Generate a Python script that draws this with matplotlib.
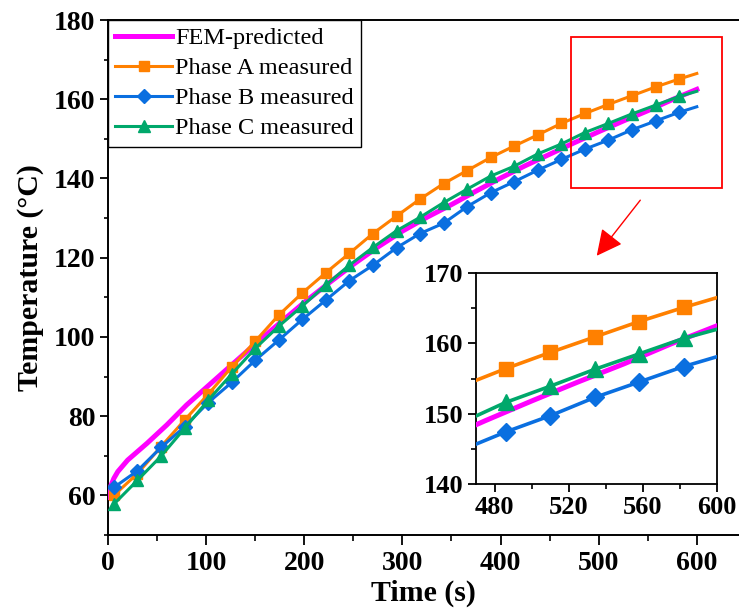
import matplotlib
matplotlib.use("Agg")
import matplotlib.pyplot as plt
import numpy as np
from matplotlib.patches import Rectangle, FancyArrowPatch
from matplotlib.ticker import MultipleLocator

plt.rcParams['font.family'] = ['Liberation Serif', 'DejaVu Serif']

# Measured series (time in s, temperature in °C)
t_meas = [6, 30, 54, 78, 102, 126, 150, 174, 198, 222, 246, 270, 294, 318, 342,
          366, 390, 414, 438, 462, 486, 510, 534, 558, 582, 600]
phase_a = [60.0, 65.5, 72.3, 79.0, 85.5, 92.4, 98.9, 105.5, 111.1, 116.2, 121.1,
           126.1, 130.5, 134.8, 138.7, 142.0, 145.3, 148.2, 151.0, 153.9, 156.4,
           158.7, 160.9, 163.1, 165.1, 166.5]
phase_b = [62.0, 66.2, 72.1, 77.3, 83.4, 88.5, 94.1, 99.2, 104.4, 109.3, 114.2,
           118.1, 122.5, 126.1, 128.7, 132.9, 136.4, 139.2, 142.1, 144.8, 147.4,
           149.7, 152.3, 154.5, 156.7, 158.1]
phase_c = [57.8, 63.8, 69.9, 76.9, 84.0, 90.6, 97.1, 102.7, 107.8, 113.1, 118.1,
           122.6, 126.8, 130.2, 133.9, 137.3, 140.6, 143.1, 146.2, 148.7, 151.6,
           153.9, 156.3, 158.5, 160.7, 162.0]

# FEM-predicted curve
t_fem = [0, 3, 6, 10, 20, 40, 60, 80, 100, 125, 150, 175, 200, 225, 250, 275, 300,
         325, 350, 375, 400, 425, 450, 475, 500, 525, 550, 575, 600]
fem = [59.5, 62.5, 64.3, 66.0, 68.9, 73.2, 77.8, 82.8, 87.2, 92.7, 98.2, 103.5,
       108.7, 113.6, 118.3, 122.7, 126.7, 130.2, 133.4, 136.8, 140.1, 143.2, 146.1,
       149.0, 151.8, 154.5, 157.1, 159.9, 162.5]

C_FEM = '#FF00FF'
C_A = '#FF8000'
C_B = '#0A6FE0'
C_C = '#00A86B'

mark_idx = list(range(len(t_meas) - 1))

fig = plt.figure(figsize=(7.39, 6.11), dpi=100)
ax = fig.add_axes([108/739, 76/611, 631/739, 515/611])

ax.plot(t_fem, fem, color=C_FEM, lw=3.6, label='FEM-predicted', zorder=3)
ax.plot(t_meas, phase_a, color=C_A, lw=2.2, marker='s', ms=7.5, markevery=mark_idx,
        label='Phase A measured', zorder=4)
ax.plot(t_meas, phase_b, color=C_B, lw=2.2, marker='D', ms=7, markevery=mark_idx,
        label='Phase B measured', zorder=4)
ax.plot(t_meas, phase_c, color=C_C, lw=2.2, marker='^', ms=8.5, markevery=mark_idx,
        label='Phase C measured', zorder=4)

ax.set_xlim(0, 643)
ax.set_ylim(50, 180)
ax.set_xticks([0, 100, 200, 300, 400, 500, 600])
ax.xaxis.set_minor_locator(MultipleLocator(50))
ax.set_yticks([60, 80, 100, 120, 140, 160, 180])
ax.yaxis.set_minor_locator(MultipleLocator(10))
ax.spines['right'].set_visible(False)
for s in ['left', 'bottom', 'top']:
    ax.spines[s].set_linewidth(1.4)
ax.tick_params(axis='x', which='major', direction='out', length=7.5, width=1.3,
               labelsize=20, top=False, pad=4)
ax.tick_params(axis='x', which='minor', direction='out', length=4.3, width=1.2, top=False)
ax.tick_params(axis='y', which='major', direction='out', length=6, width=1.3,
               labelsize=20, right=False, pad=3)
ax.tick_params(axis='y', which='minor', direction='out', length=3.2, width=1.2, right=False)
for lab in ax.get_xticklabels() + ax.get_yticklabels():
    lab.set_fontweight('bold')
ax.set_xlabel('Time (s)', fontsize=21.5, fontweight='bold', labelpad=3)
ax.set_ylabel('Temperature (°C)', fontsize=21.5, fontweight='bold', labelpad=7)

leg = ax.legend(loc='upper left', bbox_to_anchor=(0, 1), borderaxespad=0,
                fontsize=17.5, frameon=True, fancybox=False, edgecolor='black',
                framealpha=1, handlelength=2.35, handletextpad=0.12,
                borderpad=0.3, labelspacing=0.33)
leg.get_frame().set_linewidth(1.0)

# Inset
axi = fig.add_axes([476/739, 127/611, 241/739, 211/611])
axi.plot(t_fem, fem, color=C_FEM, lw=3.6, zorder=3)
axi.plot(t_meas, phase_a, color=C_A, lw=2.6, marker='s', ms=9.5, markevery=mark_idx, zorder=4)
axi.plot(t_meas, phase_b, color=C_B, lw=2.6, marker='D', ms=9.5, markevery=mark_idx, zorder=4)
axi.plot(t_meas, phase_c, color=C_C, lw=2.6, marker='^', ms=11, markevery=mark_idx, zorder=4)
axi.set_xlim(470, 600)
axi.set_ylim(140, 170)
axi.set_xticks([480, 520, 560, 600])
axi.xaxis.set_minor_locator(MultipleLocator(20))
axi.set_yticks([140, 150, 160, 170])
axi.yaxis.set_minor_locator(MultipleLocator(5))
for s in axi.spines.values():
    s.set_linewidth(1.3)
axi.tick_params(which='major', direction='out', length=6, width=1.3, labelsize=19, pad=3)
axi.tick_params(which='minor', direction='out', length=3.5, width=1.2)
for lab in axi.get_xticklabels() + axi.get_yticklabels():
    lab.set_fontweight('bold')

# Red zoom box and arrow (figure pixel coordinates)
W, H = 739, 611
rect = Rectangle((571/W, (H-188)/H), 151/W, 151/H, transform=fig.transFigure,
                 fill=False, edgecolor='red', lw=1.3)
fig.patches.append(rect)
arr = FancyArrowPatch((642/W, (H-198)/H), (595/W, (H-258)/H), transform=fig.transFigure,
                      arrowstyle='-|>,head_length=10,head_width=5', color='red', lw=1.0,
                      mutation_scale=1.6)
fig.patches.append(arr)

fig.savefig('out.png', dpi=100)
